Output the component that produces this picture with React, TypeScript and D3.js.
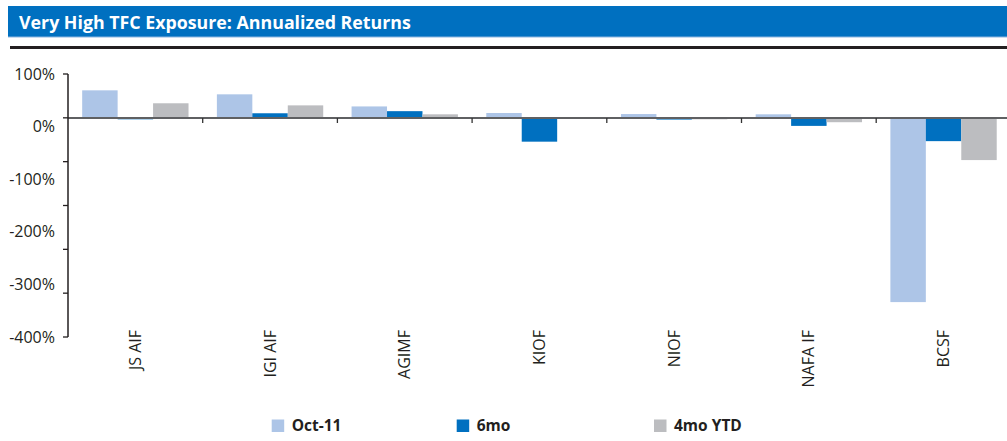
import React from "react";
import * as d3 from "d3";

const categories = ["JS AIF", "IGI AIF", "AGIMF", "KIOF", "NIOF", "NAFA IF", "BCSF"];
const seriesNames = ["Oct-11", "6mo", "4mo YTD"];
const oct11 = [52.6, 45, 22, 9.5, 7.5, 7, -350];
const sixMo = [-2.5, 9, 13, -45, -3, -15, -44];
const ytd4mo = [28, 24, 7, 0, -2.5, -8, -80];
const tickLabelValues = [100, 0, -100, -200, -300, -400];
const tickLabels = ["100%", "0%", "-100%", "-200%", "-300%", "-400%"];

const colors = ["#ADC5E7", "#0070C0", "#BCBDC0"];
const W = 1007;
const H = 441;
const FONT = "'Open Sans', sans-serif";

export default function App() {
  const seriesValues = [oct11, sixMo, ytd4mo];
  const axisX = 68;
  const catW = 134.7;
  const top = 74;
  const bottom = 337;
  const zeroY = 118;

  const x = d3
    .scaleBand<string>()
    .domain(categories)
    .range([axisX, axisX + catW * categories.length])
    .paddingInner(0)
    .paddingOuter(0);
  const x1 = d3
    .scaleBand<string>()
    .domain(seriesNames)
    .range([0, x.bandwidth()])
    .paddingInner(0)
    .paddingOuter(0.4);

  // bar value scale: zero at the category axis, 0.526 px per %
  const pxPer = (bottom - top) / 500;
  const d1 = (zeroY - top) / pxPer;
  const d0 = d1 - 500;
  const y = d3.scaleLinear().domain([d0, d1]).range([bottom, top]);
  const majorTicks = d3.range(7).map((i) => d0 + (i * (d1 - d0)) / 6);

  // label scale (labels spread evenly along the axis)
  const yLab = d3.scaleLinear().domain([-400, 100]).range([bottom, top]);

  const legendX = [271.7, 456.7, 654];

  return (
    <svg
      width={W}
      height={H}
      style={{ position: "absolute", left: 0, top: 0, background: "#fff" }}
    >
      {/* title bar */}
      <rect x={8} y={6} width={W - 8} height={31} fill="#0070C0" />
      <line x1={8} x2={W} y1={37} y2={37} stroke="#8DB6E0" strokeWidth={1} />
      <text
        x={19}
        y={29}
        fill="#fff"
        fontFamily={FONT}
        fontWeight={700}
        fontSize={17.8}
      >
        Very High TFC Exposure: Annualized Returns
      </text>
      <rect x={10} y={46} width={W - 10} height={3} fill="#231F20" />

      {/* bars */}
      {categories.map((c, ci) =>
        seriesNames.map((s, si) => {
          const v = seriesValues[si][ci];
          const y0 = y(0);
          const yv = y(v);
          return (
            <rect
              key={c + s}
              x={(x(c) as number) + (x1(s) as number)}
              y={Math.min(y0, yv)}
              width={x1.bandwidth()}
              height={Math.abs(yv - y0)}
              fill={colors[si]}
            />
          );
        })
      )}

      {/* zero / category axis */}
      <line x1={axisX} x2={W} y1={y(0)} y2={y(0)} stroke="#5F6062" strokeWidth={2} />
      {categories.map((c, i) =>
        i === 0 ? null : (
          <line
            key={"t" + c}
            x1={x(c) as number}
            x2={x(c) as number}
            y1={y(0)}
            y2={y(0) + 5}
            stroke="#333"
            strokeWidth={1.3}
          />
        )
      )}

      {/* value axis */}
      <line x1={axisX} x2={axisX} y1={top} y2={bottom} stroke="#231F20" strokeWidth={1.5} />
      {majorTicks.map((t, i) => (
        <line
          key={"yt" + i}
          x1={axisX - 5}
          x2={axisX}
          y1={y(t)}
          y2={y(t)}
          stroke="#231F20"
          strokeWidth={1.3}
        />
      ))}
      {tickLabelValues.map((v, i) => (
        <text
          key={"yl" + v}
          x={55}
          y={yLab(v)}
          dy="0.35em"
          textAnchor="end"
          fontFamily={FONT}
          fontSize={16}
          fill="#231F20"
        >
          {tickLabels[i]}
        </text>
      ))}

      {/* category labels */}
      {categories.map((c) => {
        const cx = (x(c) as number) + x.bandwidth() / 2;
        return (
          <text
            key={"cl" + c}
            transform={`translate(${cx},330) rotate(-90)`}
            textAnchor="end"
            dy="0.35em"
            fontFamily={FONT}
            fontSize={16}
            fill="#231F20"
          >
            {c}
          </text>
        );
      })}

      {/* legend */}
      {seriesNames.map((s, i) => (
        <g key={"lg" + s} transform={`translate(${legendX[i]},419.5)`}>
          <rect x={0} y={0} width={12.5} height={12.5} fill={colors[i]} />
          <text
            x={20}
            y={6.5}
            dy="0.35em"
            fontFamily={FONT}
            fontWeight={700}
            fontSize={15.5}
            fill="#231F20"
          >
            {s}
          </text>
        </g>
      ))}
    </svg>
  );
}
